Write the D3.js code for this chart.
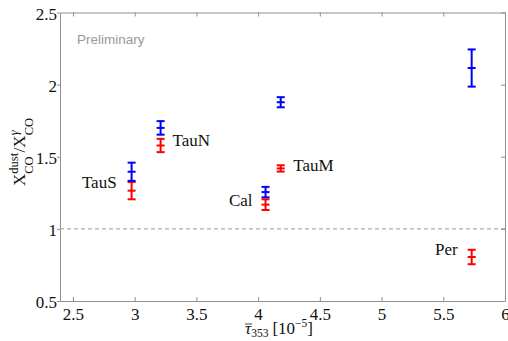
<!DOCTYPE html>
<html><head><meta charset="utf-8">
<script src="https://cdn.jsdelivr.net/npm/d3@7"></script>
<style>body{margin:0;background:#fff;overflow:hidden}</style>
</head><body>
<svg id="c" width="508" height="341"></svg>
<script>
// ---- data ----
const regions = ["TauS", "TauN", "Cal", "TauM", "Per"];
const tau353 = [2.975, 3.21, 4.06, 4.183, 5.73];
const ratioBlue = [1.396, 1.700, 1.255, 1.878, 2.115];
const errBlue = [0.063, 0.047, 0.036, 0.035, 0.129];
const ratioRed = [1.265, 1.578, 1.168, 1.419, 0.805];
const errRed = [0.060, 0.046, 0.037, 0.022, 0.050];
const xTicks = [2.5, 3, 3.5, 4, 4.5, 5, 5.5, 6];
const yTicks = [0.5, 1, 1.5, 2, 2.5];
const refValue = 1;
const watermark = "Preliminary";

// ---- layout / style ----
const L = 60, R = 505, T = 12.5, B = 301;
const axisColor = "#8f8f8f";
const serif = "'Liberation Serif', 'Times New Roman', serif";
const labelStyle = { // pixel offsets of labels from the red point
  TauS: {dx: -15, dy: -3, anchor: "end"},
  TauN: {dx: 12, dy: 1, anchor: "start"},
  Cal:  {dx: -13, dy: 1, anchor: "end"},
  TauM: {dx: 12.5, dy: 2.7, anchor: "start"},
  Per:  {dx: -14, dy: -1.6, anchor: "end"}
};

const svg = d3.select("#c");
const x = d3.scaleLinear().domain([2.395, 6]).range([L, R]);
const y = d3.scaleLinear().domain([0.5, 2.5]).range([B, T]);

function styleAxis(g, showText) {
  g.attr("font-family", null).attr("font-size", null);
  g.select(".domain").attr("stroke", axisColor).attr("stroke-width", 1);
  g.selectAll(".tick line").attr("stroke", axisColor).attr("stroke-width", 1);
  g.selectAll(".tick text").style("font-family", serif).style("font-size", "17px").attr("fill", "#111");
  if (!showText) g.selectAll(".tick text").remove();
}

const fmt = d => String(d);
svg.append("g").attr("transform", `translate(0,${B})`)
  .call(d3.axisBottom(x).tickValues(xTicks).tickFormat(fmt).tickSizeInner(-4).tickSizeOuter(0))
  .call(g => styleAxis(g, true))
  .call(g => g.selectAll(".tick text").attr("dy", null).attr("y", 19));
svg.append("g").attr("transform", `translate(0,${T})`)
  .call(d3.axisTop(x).tickValues(xTicks).tickSizeInner(-4).tickSizeOuter(0))
  .call(g => styleAxis(g, false));
svg.append("g").attr("transform", `translate(${L},0)`)
  .call(d3.axisLeft(y).tickValues(yTicks).tickFormat(fmt).tickSizeInner(3).tickSizeOuter(0))
  .call(g => styleAxis(g, true))
  .call(g => g.selectAll(".tick text").attr("x", -3).attr("dy", null).attr("y", 6.5));
svg.append("g").attr("transform", `translate(${R},0)`)
  .call(d3.axisRight(y).tickValues(yTicks).tickSizeInner(-4).tickSizeOuter(0))
  .call(g => styleAxis(g, false));

// reference dashed line
svg.append("line")
  .attr("x1", L).attr("x2", R).attr("y1", y(refValue)).attr("y2", y(refValue))
  .attr("stroke", "#999").attr("stroke-width", 1).attr("stroke-dasharray", "4,3");

// watermark
svg.append("text").attr("x", 77).attr("y", 44).text(watermark)
  .style("font-family", "'Liberation Sans', Arial, sans-serif").style("font-size", "13.5px").attr("fill", "#999");

// error bars
function errorBars(vals, errs, color) {
  const cap = 4;
  const g = svg.append("g").attr("stroke", color).attr("stroke-width", 2).attr("fill", "none");
  vals.forEach((v, i) => {
    const cx = x(tau353[i]);
    const y0 = y(v - errs[i]), y1 = y(v + errs[i]), ym = y(v);
    g.append("line").attr("x1", cx).attr("x2", cx).attr("y1", y0).attr("y2", y1);
    [y0, ym, y1].forEach(yy => g.append("line").attr("x1", cx - cap).attr("x2", cx + cap).attr("y1", yy).attr("y2", yy));
  });
}
errorBars(ratioRed, errRed, "#ff0000");
errorBars(ratioBlue, errBlue, "#0000ff");

// region labels
regions.forEach((r, i) => {
  const s = labelStyle[r];
  svg.append("text").attr("x", x(tau353[i]) + s.dx).attr("y", y(ratioRed[i]) + s.dy)
    .attr("text-anchor", s.anchor).style("font-family", serif).style("font-size", "17px").attr("fill", "#111")
    .text(r);
});

// rich text helper: one <text>, pieces as tspans with absolute x/y; stack=true shares start with previous piece
function richText(g, pieces) {
  const text = g.append("text").style("font-family", serif).attr("fill", "#111");
  let cursor = 0, prevStart = 0, prevW = 0;
  const spans = [];
  pieces.forEach(p => {
    const start = p.stack ? prevStart : cursor;
    const t = text.append("tspan").attr("x", start).attr("y", p.dy || 0)
      .style("font-size", p.size + "px")
      .style("font-style", p.italic ? "italic" : "normal").text(p.t);
    const w = t.node().getComputedTextLength();
    spans.push({start, w});
    const adv = p.stack ? Math.max(prevW, w) : w;
    cursor = start + adv + (p.after || 0);
    prevStart = start; prevW = adv;
  });
  return {width: cursor, spans};
}

// x label
const gx = svg.append("g");
const xl = richText(gx, [
  {t: "τ", size: 17, italic: true},
  {t: "353", size: 11.5, dy: 3, after: 4},
  {t: "[10", size: 17},
  {t: "−5", size: 11.5, dy: -6.5},
  {t: "]", size: 17}
]);
gx.append("line").attr("x1", 0).attr("x2", xl.spans[0].w + 1).attr("y1", -9.5).attr("y2", -9.5)
  .attr("stroke", "#111").attr("stroke-width", 0.8);
gx.attr("transform", `translate(${279 - xl.width / 2},333.5)`);

// y label
const gy = svg.append("g");
const yl = richText(gy, [
  {t: "X", size: 17},
  {t: "dust", size: 12.5, dy: -7},
  {t: "CO", size: 12.5, dy: 8, stack: true, after: 0.5},
  {t: "/", size: 17},
  {t: "X", size: 17},
  {t: "γ", size: 12.5, dy: -7, italic: true},
  {t: "CO", size: 12.5, dy: 8, stack: true}
]);
gy.attr("transform", `translate(25,${152 + yl.width / 2}) rotate(-90)`);
</script>
</body></html>
